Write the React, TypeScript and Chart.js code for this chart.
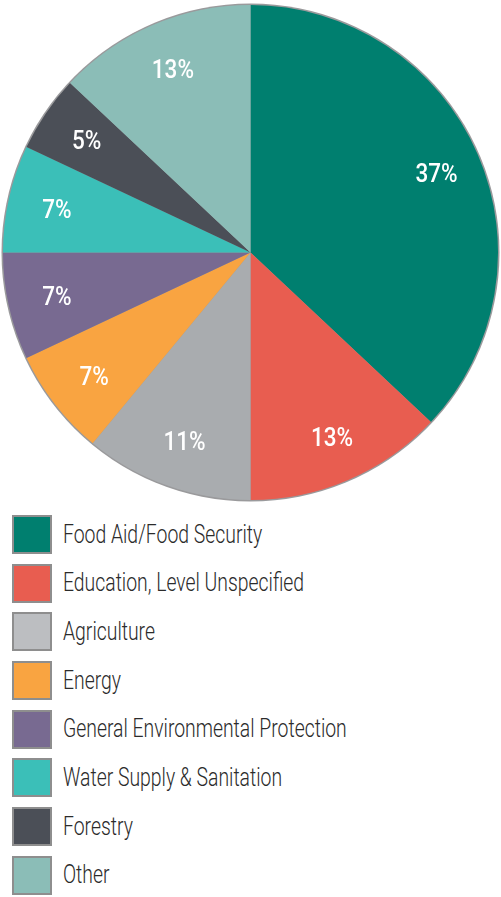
import React, { useEffect, useRef } from "react";
import { Chart, registerables } from "chart.js";

Chart.register(...registerables);

const categories = [
  "Food Aid/Food Security",
  "Education, Level Unspecified",
  "Agriculture",
  "Energy",
  "General Environmental Protection",
  "Water Supply & Sanitation",
  "Forestry",
  "Other",
];
const shares = [37, 13, 11, 7, 7, 7, 5, 13];
const colors = ["#007f6f", "#e85d50", "#a9acaf", "#f9a441", "#786a91", "#3bbfb8", "#4b4f57", "#8bbdb7"];
const legendColors = ["#007f6f", "#e85d50", "#bcbec1", "#f9a441", "#786a91", "#3bbfb8", "#4b4f57", "#8bbdb7"];

const FONT = 'Roboto, "Noto Sans", sans-serif';

const outlinePlugin = {
  id: "outline",
  beforeDatasetsDraw(chart: any) {
    const meta = chart.getDatasetMeta(0);
    const arc = meta.data[0];
    if (!arc) return;
    const { x, y, outerRadius } = arc.getProps(["x", "y", "outerRadius"], true);
    const ctx = chart.ctx;
    ctx.save();
    ctx.beginPath();
    ctx.arc(x, y, outerRadius + 1.5, 0, Math.PI * 2);
    ctx.fillStyle = "#9a9a9c";
    ctx.fill();
    ctx.restore();
  },
};

const labelPlugin = {
  id: "sliceLabels",
  afterDatasetsDraw(chart: any) {
    const meta = chart.getDatasetMeta(0);
    const ctx = chart.ctx;
    meta.data.forEach((arc: any, i: number) => {
      const { x, y, startAngle, endAngle, outerRadius } = arc.getProps(
        ["x", "y", "startAngle", "endAngle", "outerRadius"],
        true
      );
      const mid = (startAngle + endAngle) / 2;
      const r = outerRadius * 0.81;
      const lx = x + Math.cos(mid) * r + 2;
      const ly = y + Math.sin(mid) * r + 3;
      ctx.save();
      ctx.translate(lx, ly);
      ctx.scale(0.9, 1);
      ctx.fillStyle = "#ffffff";
      ctx.font = `500 25px ${FONT}`;
      ctx.textAlign = "center";
      ctx.textBaseline = "middle";
      ctx.fillText(`${shares[i]}%`, 0, 0);
      ctx.restore();
    });
  },
};

export default function App() {
  const ref = useRef<HTMLCanvasElement>(null);
  useEffect(() => {
    if (!ref.current) return;
    const chart = new Chart(ref.current, {
      type: "pie",
      data: {
        labels: categories,
        datasets: [
          {
            data: shares,
            backgroundColor: colors,
            borderWidth: 0,
          },
        ],
      },
      options: {
        animation: false,
        responsive: false,
        maintainAspectRatio: false,
        layout: { padding: { top: 5, bottom: 5, left: 3, right: 3 } },
        plugins: {
          legend: { display: false },
          tooltip: { enabled: false },
        },
      },
      plugins: [outlinePlugin, labelPlugin],
    });
    return () => chart.destroy();
  }, []);

  return (
    <div style={{ position: "absolute", left: 0, top: 0, width: 501, height: 897, background: "#fff" }}>
      <canvas ref={ref} width={501} height={505} style={{ display: "block", width: 501, height: 505 }} />
      <div style={{ position: "absolute", left: 12, top: 515 }}>
        {categories.map((c, i) => (
          <div
            key={c}
            style={{ display: "flex", alignItems: "center", height: 39, marginBottom: 9.7, position: "relative" }}
          >
            <div
              style={{
                boxSizing: "border-box",
                width: 40,
                height: 39,
                background: legendColors[i],
                border: "2px solid #8e8e8e",
                flex: "none",
              }}
            />
            <span
              style={{
                position: "absolute",
                left: 51,
                top: "50%",
                transform: "translateY(-50%) scaleX(0.775)",
                transformOrigin: "left center",
                fontFamily: FONT,
                fontWeight: 300,
                fontSize: 25,
                lineHeight: "30px",
                color: "#2b2b2b",
                whiteSpace: "nowrap",
              }}
            >
              {c}
            </span>
          </div>
        ))}
      </div>
    </div>
  );
}
